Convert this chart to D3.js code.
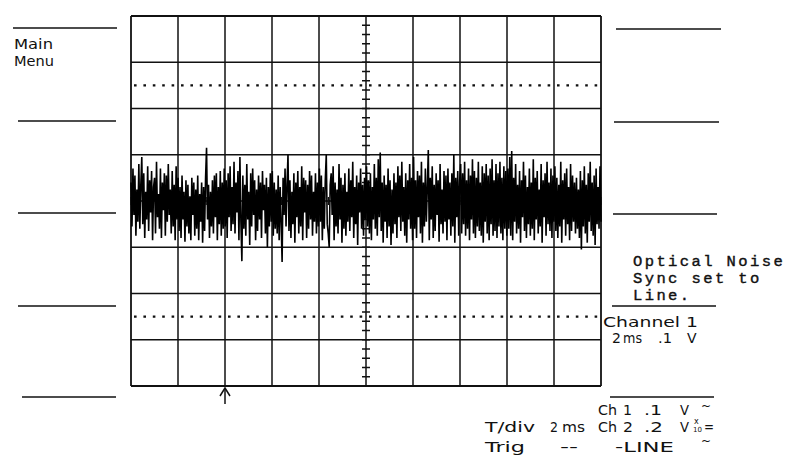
<!DOCTYPE html>
<html>
<head>
<meta charset="utf-8">
<script src="https://cdn.jsdelivr.net/npm/d3@7"></script>
<style>
  html, body { margin: 0; padding: 0; background: #fff; }
  svg { display: block; }
</style>
</head>
<body>
<svg id="chart" width="800" height="476"></svg>
<script>
// ---- Data (trace samples in mV, Ch1 0.1 V/div, 2 ms/div) ----
const timeDomainMs = [0, 20];          // 10 divisions x 2 ms
const voltDomainV = [-0.4, 0.4];       // 8 divisions x 0.1 V
const triggerTimeMs = 4;               // trigger marker position
const dottedLevelsV = [0.25, -0.25];
const noiseMv = [
  // div 0
  40, -55, 70, -30, 55, -75, 25, -45, 80, -60, 35, 95, -50, 60, -80, 20, -40, 75, -65, 45, -25, 65, -85, 30,
  50, -70, 85, -35, 15, -60, 70, -80, 40, -20, 60, -75, 55, -45, 80, -30, 25, -70, 65, -55, 35, -85, 75, -40,
  // div 1
  50, -65, 30, -80, 55, -40, 20, -88, 45, -55, 35, -70, 10, -85, 50, -30, 40, -75, 25, -60, 55, -85, 15, -45,
  40, -90, 30, -65, 50, 115, -40, 35, -80, 20, -55, 45, -70, 55, -35, 60, -85, 30, -50, 65, -75, 40, -60, 70,
  // div 2
  -55, 45, -80, 60, -35, 75, -65, 30, -50, 85, -70, 40, -25, 65, -85, 95, -45, -130, 55, -60, 35, -75, 80, -40,
  20, -95, 60, -55, 70, -30, 45, -85, 25, -65, 55, -40, 40, -80, 65, -20, 35, -70, 50, -100, 30, -55, 60, -45,
  // div 3
  65, -75, 40, -60, 25, -70, 55, -85, 30, -45, -132, 50, -30, 70, -55, 35, 100, -65, 45, -80, 20, -50, 60, -90,
  40, -35, 65, -70, 30, -55, 75, -85, 50, -25, 45, -80, 35, -60, 65, -40, 55, -75, 20, -45, 60, -70, 40, -55,
  // div 4
  70, -45, 55, -85, 30, -60, 45, 100, -50, -70, -100, 35, 60, -30, 75, -85, 40, -55, 25, -70, 80, -40, 50, -90,
  35, -60, 60, -75, 20, -45, 70, -65, 45, -35, 85, -80, 30, -50, 55, -95, 40, -25, 70, -60, 35, -75, 50, -40,
  // div 5
  75, -55, 45, -70, 60, -85, 30, -40, 80, -60, 50, -75, 90, -35, 105, -65, 40, -90, 55, -45, 35, -80, 70, -55,
  45, -95, 25, -70, 60, -50, 40, -80, 75, -35, 55, -65, 85, -45, 30, -75, 60, -90, 45, -40, 80, -60, 50, -85,
  // div 6
  95, -60, 45, -80, 65, -35, 55, -70, 85, -90, 40, -55, 70, -45, 30, 110, -85, 50, -40, 75, -80, 35, -65, 60,
  -30, 45, -88, 80, -50, 25, -70, 65, -45, 55, -85, 70, -40, 40, -75, 60, -55, 100, -90, 50, -35, 65, -75, 45,
  // div 7
  80, -70, 60, -50, 85, -75, 45, -60, 70, -85, 55, -40, 90, -70, 65, -80, 50, -55, 85, -65, 40, -75, 75, -90,
  60, -45, 80, -70, 55, -85, 70, -50, 90, -75, 45, -65, 80, -80, 60, -55, 85, -70, 50, -85, 75, -60, 65, -75,
  // div 8
  70, -60, 95, -75, 108, -85, 50, -45, 80, -70, 35, -60, 65, -90, 45, -35, 85, -65, 55, -80, 30, -50, 70, -75,
  40, -60, 90, -85, 50, -40, 65, -70, 25, -55, 80, -90, 45, -35, 60, -75, 85, -50, 40, -65, 70, -80, 55, -45,
  // div 9
  75, -65, 50, -80, 35, -55, 85, -90, 45, -40, 60, -75, 70, -50, 30, -85, 80, -65, 55, -45, 40, -70, 50, -60,
  25, -80, 65, -105, 45, -55, 75, -70, 35, -90, 60, -45, 85, -65, 40, -75, 55, -95, 70, -50, 30, -60, 75, -45
];
const menuLabels = ["Main", "Menu"];
const noteLines = ["Optical Noise", "Sync set to", "Line."];
const channelLabel = "Channel 1";

const svg = d3.select("#chart");
const x = d3.scaleLinear().domain(timeDomainMs).range([131, 601]);
const y = d3.scaleLinear().domain(voltDomainV).range([386, 16]);
const ink = "#111";

// ---- Side menu lines ----
const leftLines = [[13, 117, 28], [18, 116, 121], [18, 116, 213], [18, 116, 306], [22, 116, 397]];
const rightLines = [[616, 721, 29], [614, 719, 122], [613, 717, 214], [612, 716, 306], [610, 714, 397]];
svg.append("g").selectAll("line").data(leftLines.concat(rightLines)).join("line")
  .attr("x1", d => d[0]).attr("x2", d => d[1]).attr("y1", d => d[2]).attr("y2", d => d[2])
  .attr("stroke", ink).attr("stroke-width", 1.6);

// ---- Grid ----
const g = svg.append("g");
const xMajors = d3.range(0, 21, 2);
const yMajors = d3.range(-4, 5).map(v => v / 10);
g.selectAll(".vx").data(xMajors).join("line")
  .attr("x1", d => x(d)).attr("x2", d => x(d)).attr("y1", y(0.4)).attr("y2", y(-0.4))
  .attr("stroke", ink).attr("stroke-width", (d, i) => (i === 0 || i === xMajors.length - 1) ? 1.8 : 1.5);
g.selectAll(".hy").data(yMajors).join("line")
  .attr("x1", x(0)).attr("x2", x(20)).attr("y1", d => y(d)).attr("y2", d => y(d))
  .attr("stroke", ink).attr("stroke-width", (d, i) => (i === 0 || i === yMajors.length - 1) ? 1.8 : 1.5);

// dotted reference lines
g.selectAll(".dot").data(dottedLevelsV).join("line")
  .attr("x1", x(0) + 3).attr("x2", x(20)).attr("y1", d => y(d)).attr("y2", d => y(d))
  .attr("stroke", ink).attr("stroke-width", 2.2).attr("stroke-dasharray", "2.6,6.8");

// minor ticks on center vertical axis
const vTicks = d3.range(-40, 41, 2).map(v => v / 100);
g.selectAll(".vt").data(vTicks).join("line")
  .attr("x1", x(10) - 4).attr("x2", x(10) + 4).attr("y1", d => y(d)).attr("y2", d => y(d))
  .attr("stroke", ink).attr("stroke-width", 1.5);
// minor ticks on center horizontal axis
const hTicks = d3.range(0, 101, 2).map(v => v / 5);
g.selectAll(".ht").data(hTicks).join("line")
  .attr("x1", d => x(d)).attr("x2", d => x(d)).attr("y1", y(0) - 4).attr("y2", y(0) + 4)
  .attr("stroke", ink).attr("stroke-width", 1.2);

// ---- Trace ----
const dt = 20 / (noiseMv.length - 1);
const line = d3.line().x((d, i) => x(i * dt)).y(d => y(d / 1000));
svg.append("path").datum(noiseMv)
  .attr("d", line).attr("fill", "none").attr("stroke", "#000")
  .attr("stroke-width", 1.6).attr("stroke-linejoin", "bevel");

// ---- Trigger arrow ----
const ax = x(triggerTimeMs);
const arrow = svg.append("g").attr("stroke", ink).attr("stroke-width", 1.5).attr("fill", "none");
arrow.append("line").attr("x1", ax).attr("x2", ax).attr("y1", 388).attr("y2", 404);
arrow.append("path").attr("d", `M${ax - 5},396 L${ax},388 L${ax + 5},396`);

// ---- Text ----
const sans = "'DejaVu Sans', sans-serif";
const mono = "'Liberation Mono', 'DejaVu Sans Mono', monospace";
function txt(s, tx, ty, size, len, family) {
  const t = svg.append("text").attr("x", tx).attr("y", ty)
    .attr("font-family", family || sans).attr("font-size", size).attr("fill", ink).text(s);
  if (len) t.attr("textLength", len).attr("lengthAdjust", "spacingAndGlyphs");
  return t;
}
txt(menuLabels[0], 14, 49, 14, 39);
txt(menuLabels[1], 14, 66, 14, 40);

noteLines.forEach((s, i) => {
  svg.append("text").attr("x", 633).attr("y", [266, 283, 300][i])
    .attr("font-family", mono).attr("font-size", 15.5).attr("fill", ink)
    .attr("letter-spacing", "2.4px").attr("stroke", ink).attr("stroke-width", 0.4).text(s);
});

txt(channelLabel, 603, 327, 14, 95);
txt("2", 612, 343, 14);
txt("ms", 623, 343, 14, 19);
txt(".1", 658, 343, 14, 14);
txt("V", 687, 343, 14);

// bottom status block
txt("Ch", 598, 415, 14, 19);
txt("1", 623, 415, 14, 9);
txt(".1", 644, 415, 14, 18);
txt("V", 680, 415, 14, 9);
txt("~", 701, 410, 12);

txt("T/div", 485, 432, 14, 50);
txt("2", 550, 432, 14, 8);
txt("ms", 562, 432, 14, 23);
txt("Ch", 598, 432, 14, 19);
txt("2", 623, 432, 14, 10);
txt(".2", 644, 432, 14, 19);
txt("V", 680, 432, 14, 9);
txt("x", 694, 424, 8);
txt("10", 693, 432, 7);
txt("=", 704, 432, 14, 10);

txt("Trig", 485, 452, 14, 40);
txt("--", 560, 452, 14, 18);
txt("-LINE", 615, 452, 14, 59);
txt("~", 701, 445, 12);
</script>
</body>
</html>
